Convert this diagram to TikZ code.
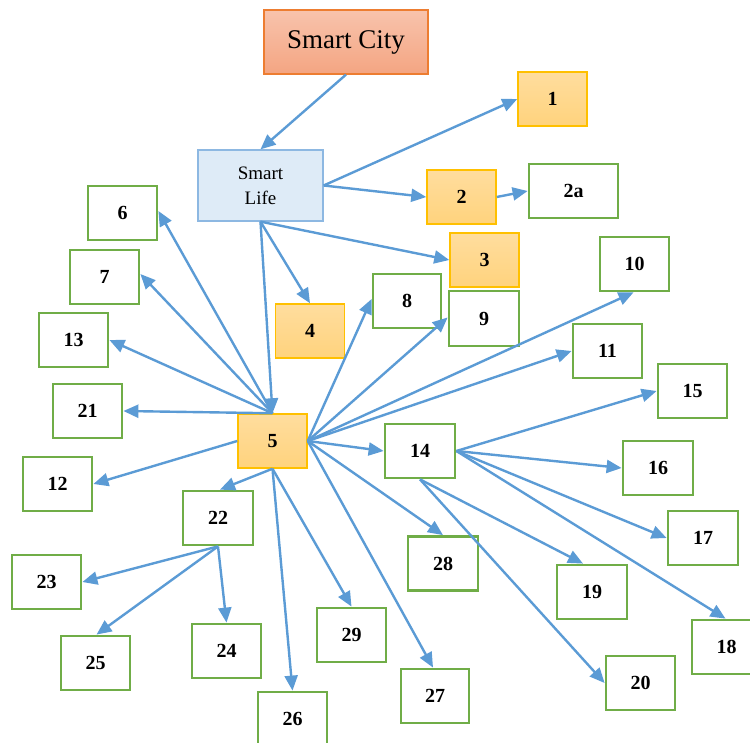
\documentclass[tikz,border=0pt]{standalone}
\usepackage{fontspec}
\setmainfont{Liberation Serif}
\usetikzlibrary{arrows.meta,calc}
\definecolor{arr}{HTML}{5B9BD5}
\definecolor{grn}{HTML}{70AD47}
\definecolor{org}{HTML}{FFC000}
\definecolor{orgtop}{HTML}{FFDD9E}
\definecolor{orgbot}{HTML}{FFD37D}
\definecolor{sctop}{HTML}{F8C3AC}
\definecolor{scbot}{HTML}{F4A582}
\definecolor{scdraw}{HTML}{ED7D31}
\definecolor{slfill}{HTML}{DEEBF7}
\definecolor{sldraw}{HTML}{8DB8E2}
\begin{document}
\begin{tikzpicture}[x=1pt,y=-1pt,
  box/.style={minimum width=69pt, minimum height=54pt, inner sep=0pt, font=\fontsize{20}{22}\selectfont\bfseries},
  gbox/.style={box, draw=grn, line width=2.8pt, fill=white},
  obox/.style={box, draw=org, line width=1.5pt, top color=orgtop, bottom color=orgbot},
  arrow/.style={draw=arr, line width=2.4pt, -{Triangle[length=15pt,width=13pt]}}]
\useasboundingbox (0,0) rectangle (750,743);
\clip (0,0) rectangle (750,743);

% top nodes
\node[draw=scdraw, line width=1.3pt, top color=sctop, bottom color=scbot, minimum width=164pt, minimum height=64pt, inner sep=0pt, font=\fontsize{27}{30}\selectfont] (sc) at (346,42) {Smart City};
\node[draw=sldraw, line width=1.3pt, fill=slfill, minimum width=125pt, minimum height=71pt, inner sep=0pt, align=center, font=\fontsize{19}{25}\selectfont] (sl) at (260.5,185.5) {Smart\\Life};

% orange boxes
\node[obox] (n1) at (552.5,99) {1};
\node[obox] (n2) at (461.5,197) {2};
\node[obox] (n3) at (484.5,260) {3};
\node[obox] (n4) at (310,331) {4};
\node[obox] (n5) at (272.5,441) {5};

% green boxes
\node[gbox, minimum width=89pt] (n2a) at (573.5,191) {2a};
\node[gbox] (n6) at (122.5,213) {6};
\node[gbox] (n7) at (104.5,277) {7};
\node[gbox, minimum width=68pt] (n8) at (407,301) {8};
\node[gbox, minimum width=70pt, minimum height=55pt] (n9) at (484,318.5) {9};
\node[gbox] (n10) at (634.5,264) {10};
\node[gbox] (n11) at (607.5,351) {11};
\node[gbox] (n12) at (57.5,484) {12};
\node[gbox] (n13) at (73.5,340) {13};
\node[gbox, minimum width=70pt] (n14) at (420,451) {14};
\node[gbox] (n15) at (692.5,391) {15};
\node[gbox, minimum width=70pt] (n16) at (658,468) {16};
\node[gbox, minimum width=70pt] (n17) at (703,538) {17};
\node[gbox] (n18) at (726.5,647) {18};
\node[gbox, minimum width=70pt] (n19) at (592,592) {19};
\node[gbox] (n20) at (640.5,683) {20};
\node[gbox] (n21) at (87.5,411) {21};
\node[gbox, minimum width=70pt] (n22) at (218,518) {22};
\node[gbox] (n23) at (46.5,582) {23};
\node[gbox] (n24) at (226.5,651) {24};
\node[gbox] (n25) at (95.5,663) {25};
\node[gbox] (n26) at (292.5,719) {26};
\node[gbox, minimum width=68pt] (n27) at (435,696) {27};
\node[gbox, minimum width=70pt] (n28) at (443,563.5) {28};
\node[gbox] (n29) at (351.5,635) {29};

% arrows from top
\draw[arrow] (sc.south) -- (sl.north);
\draw[arrow] (sl.east) -- (n1.west);
\draw[arrow] (sl.east) -- (n2.west);
\draw[arrow] (n2.east) -- (n2a.west);
\draw[arrow] (sl.south) -- (n3.west);
\draw[arrow] (sl.south) -- (n4.north);
\draw[arrow] (sl.south) -- (n5.north);

% from 5, left side
\draw[arrow] (n5.north) -- ([yshift=2pt]n6.east);
\draw[arrow] (n5.north) -- ([yshift=3pt]n7.east);
\draw[arrow] (n5.north) -- (n13.east);
\draw[arrow] (n5.north) -- (n21.east);
\draw[arrow] (n5.west) -- (n12.east);
\draw[arrow] (n5.south) -- ([xshift=2pt]n22.north);
\draw[arrow] (n5.south) -- (n26.north);
\draw[arrow] (n5.south) -- (n29.north);

% from 5, right side
\draw[arrow] (n5.east) -- ([yshift=2pt]n8.west);
\draw[arrow] (n5.east) -- ([yshift=1pt]n9.west);
\draw[arrow] (n5.east) -- ([xshift=-1pt]n10.south);
\draw[arrow] (n5.east) -- (n11.west);
\draw[arrow] (n5.east) -- (n14.west);
\draw[arrow] (n5.east) -- (n28.north);
\draw[arrow] (n5.east) -- ([xshift=-2pt]n27.north);

% from 14
\draw[arrow] (n14.east) -- (n15.west);
\draw[arrow] (n14.east) -- (n16.west);
\draw[arrow] (n14.east) -- (n17.west);
\draw[arrow] (n14.east) -- ([xshift=-1pt]n18.north);
\draw[arrow] (n14.south) -- ([xshift=-9pt]n19.north);
\draw[arrow] (n14.south) -- (n20.west);

% from 22
\draw[arrow] (n22.south) -- (n23.east);
\draw[arrow] (n22.south) -- ([xshift=1pt]n25.north);
\draw[arrow] (n22.south) -- (n24.north);
\end{tikzpicture}
\end{document}
